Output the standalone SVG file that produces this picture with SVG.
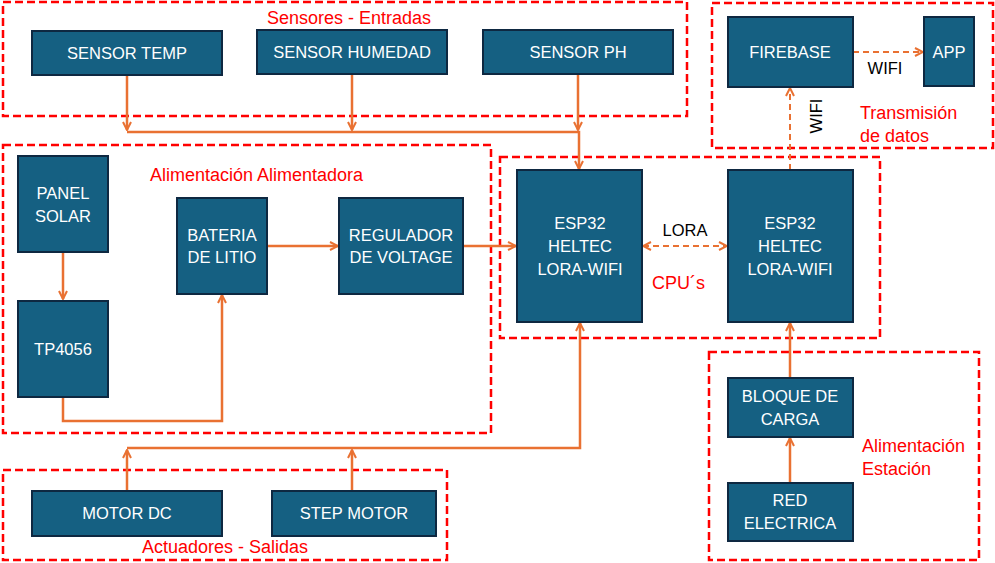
<svg xmlns="http://www.w3.org/2000/svg" width="995" height="563" viewBox="0 0 995 563">
<style>
.grp{fill:none;stroke:#FF0000;stroke-width:2.5;stroke-dasharray:8 4}
.nd rect{fill:#156082;stroke:#0E2841;stroke-width:2}
.nd text{fill:#FFFFFF;font-family:"Liberation Sans",Arial,sans-serif;font-size:16.5px;text-anchor:middle}
.lbl{fill:#FF0000;font-family:"Liberation Sans",Arial,sans-serif;font-size:18px}
.blk{fill:#000000;font-family:"Liberation Sans",Arial,sans-serif;font-size:16.5px}
.c{fill:none;stroke:#E97132;stroke-width:2.5}
.d{fill:none;stroke:#E97132;stroke-width:2;stroke-dasharray:6 4}
</style>
<defs>
<marker id="ah" viewBox="0 0 10 10" refX="9" refY="5" markerWidth="4" markerHeight="4" orient="auto-start-reverse" markerUnits="strokeWidth">
<polyline points="1,1 9,5 1,9" fill="none" stroke="#E97132" stroke-width="2"/>
</marker>
<marker id="ahd" viewBox="0 0 10 10" refX="9" refY="5" markerWidth="5" markerHeight="5" orient="auto-start-reverse" markerUnits="strokeWidth">
<polyline points="1,1 9,5 1,9" fill="none" stroke="#E97132" stroke-width="2"/>
</marker>
</defs>

<g id="groups">
<rect class="grp" x="3" y="2" width="684" height="114"/>
<rect class="grp" x="3" y="145" width="488" height="288"/>
<rect class="grp" x="500" y="157" width="380" height="181"/>
<rect class="grp" x="712" y="3" width="281" height="145"/>
<rect class="grp" x="709" y="352" width="270" height="208"/>
<rect class="grp" x="3" y="470" width="444" height="90"/>
<text class="lbl" x="349" y="24" text-anchor="middle">Sensores - Entradas</text>
<text class="lbl" x="150" y="181">Alimentación Alimentadora</text>
<text class="lbl" x="652" y="289">CPU´s</text>
<text class="lbl" x="860" y="119">Transmisión</text>
<text class="lbl" x="860" y="142">de datos</text>
<text class="lbl" x="862" y="452">Alimentación</text>
<text class="lbl" x="862" y="475">Estación</text>
<text class="lbl" x="142" y="553">Actuadores - Salidas</text>
</g>

<g id="connectors">
<line class="c" x1="127" y1="75" x2="127" y2="130" marker-end="url(#ah)"/>
<line class="c" x1="352" y1="74" x2="352" y2="130" marker-end="url(#ah)"/>
<line class="c" x1="578" y1="74" x2="578" y2="130" marker-end="url(#ah)"/>
<polyline class="c" points="127,132 579,132 579,169" marker-end="url(#ah)"/>
<line class="c" x1="63" y1="252" x2="63" y2="299" marker-end="url(#ah)"/>
<polyline class="c" points="63,397 63,421 222,421 222,295" marker-end="url(#ah)"/>
<line class="c" x1="267" y1="246" x2="338" y2="246" marker-end="url(#ah)"/>
<line class="c" x1="463" y1="246" x2="516" y2="246" marker-end="url(#ah)"/>
<line class="d" x1="643" y1="246" x2="727" y2="246" marker-start="url(#ahd)" marker-end="url(#ahd)"/>
<line class="d" x1="790" y1="170" x2="790" y2="88" marker-end="url(#ahd)"/>
<line class="d" x1="853" y1="52" x2="923" y2="52" marker-end="url(#ahd)"/>
<line class="c" x1="790" y1="378" x2="790" y2="323" marker-end="url(#ah)"/>
<line class="c" x1="790" y1="483" x2="790" y2="438" marker-end="url(#ah)"/>
<line class="c" x1="127" y1="491" x2="127" y2="450" marker-end="url(#ah)"/>
<line class="c" x1="352" y1="491" x2="352" y2="450" marker-end="url(#ah)"/>
<polyline class="c" points="127,448 580,448 580,323" marker-end="url(#ah)"/>
<text class="blk" x="685" y="236" text-anchor="middle">LORA</text>
<text class="blk" x="885" y="74" text-anchor="middle">WIFI</text>
<text class="blk" x="0" y="0" text-anchor="middle" transform="translate(822,116) rotate(-90)">WIFI</text>
</g>

<g id="sensor-temp" class="nd"><rect x="32" y="31" width="190" height="44"/><text x="127" y="59">SENSOR TEMP</text></g>
<g id="sensor-humedad" class="nd"><rect x="257" y="30" width="190" height="44"/><text x="352" y="58">SENSOR HUMEDAD</text></g>
<g id="sensor-ph" class="nd"><rect x="483" y="30" width="190" height="44"/><text x="578" y="58">SENSOR PH</text></g>
<g id="firebase" class="nd"><rect x="728" y="17" width="125" height="70"/><text x="790" y="58">FIREBASE</text></g>
<g id="app" class="nd"><rect x="924" y="17" width="50" height="69"/><text x="949" y="58">APP</text></g>
<g id="panel-solar" class="nd"><rect x="18" y="156" width="90" height="96"/><text x="63" y="199">PANEL</text><text x="63" y="222">SOLAR</text></g>
<g id="tp4056" class="nd"><rect x="18" y="301" width="90" height="96"/><text x="63" y="355">TP4056</text></g>
<g id="bateria" class="nd"><rect x="177" y="198" width="90" height="96"/><text x="222" y="241">BATERIA</text><text x="222" y="263">DE LITIO</text></g>
<g id="regulador" class="nd"><rect x="339" y="198" width="124" height="96"/><text x="401" y="241">REGULADOR</text><text x="401" y="263">DE VOLTAGE</text></g>
<g id="esp32-a" class="nd"><rect x="517" y="170" width="125" height="152"/><text x="580" y="229">ESP32</text><text x="580" y="252">HELTEC</text><text x="580" y="275">LORA-WIFI</text></g>
<g id="esp32-b" class="nd"><rect x="728" y="170" width="125" height="152"/><text x="790" y="229">ESP32</text><text x="790" y="252">HELTEC</text><text x="790" y="275">LORA-WIFI</text></g>
<g id="bloque-carga" class="nd"><rect x="728" y="378" width="125" height="59"/><text x="790" y="402">BLOQUE DE</text><text x="790" y="425">CARGA</text></g>
<g id="red-electrica" class="nd"><rect x="728" y="483" width="125" height="58"/><text x="790" y="506">RED</text><text x="790" y="529">ELECTRICA</text></g>
<g id="motor-dc" class="nd"><rect x="32" y="491" width="190" height="45"/><text x="127" y="519">MOTOR DC</text></g>
<g id="step-motor" class="nd"><rect x="272" y="491" width="164" height="45"/><text x="354" y="519">STEP MOTOR</text></g>
</svg>
